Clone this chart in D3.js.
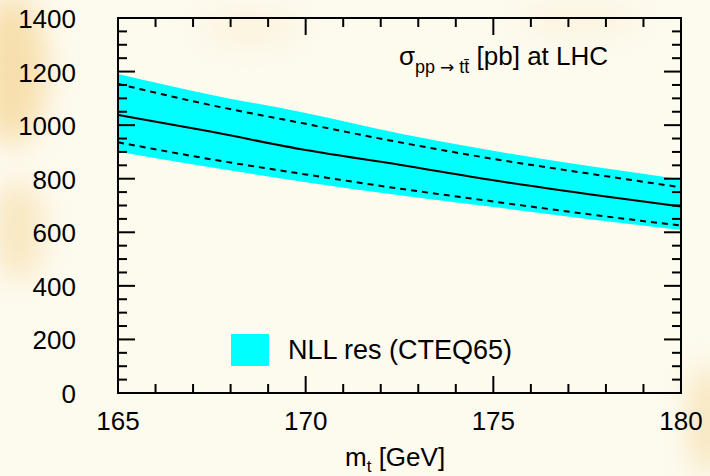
<!DOCTYPE html>
<html>
<head>
<meta charset="utf-8">
<script src="https://cdn.jsdelivr.net/npm/d3@7"></script>
<style>
  body { margin: 0; background: #fdfaee; }
  text { font-family: "Liberation Sans", Arial, sans-serif; fill: #000; }
</style>
</head>
<body>
<div id="canvas"></div>
<script>
"use strict"
let svgWidth = 710;
let svgHeight = 476;

let marginLeft = 118;
let marginRight = 29;
let marginTop = 18;
let marginBottom = 83;

let masses = [165, 167.5, 170, 172.5, 175, 177.5, 180];
// central NLL resummed cross section (pb)
let central = [1038, 975, 907, 852, 794, 743, 696];
// edges of the cyan band
let bandUpper = [1191, 1113, 1045, 969, 904, 848, 798];
let bandLower = [901, 842, 787, 738, 694, 650, 609];
// dashed curves
let dashUpper = [1154, 1074, 1005, 936, 874, 820, 768];
let dashLower = [936, 872, 816, 763, 715, 668, 625];

let xTicks = [165, 170, 175, 180];
let yTicks = [0, 200, 400, 600, 800, 1000, 1200, 1400];

let svg = d3.select("#canvas")
    .append("svg")
    .attr("width", svgWidth)
    .attr("height", svgHeight);

// soft beige blotches in the background
let defs = svg.append("defs");
defs.append("filter")
    .attr("id", "blur")
    .attr("x", "-50%").attr("y", "-50%")
    .attr("width", "200%").attr("height", "200%")
    .append("feGaussianBlur")
    .attr("stdDeviation", 14);

svg.append("rect")
    .attr("width", svgWidth)
    .attr("height", svgHeight)
    .attr("fill", "#fdfaee");

let blotches = [
    {cx: 12, cy: 70, rx: 35, ry: 75, c: "#f7e0ae"},
    {cx: 18, cy: 230, rx: 26, ry: 50, c: "#f9e8c2"},
    {cx: 706, cy: 420, rx: 16, ry: 55, c: "#f7e4b8"},
    {cx: 250, cy: 28, rx: 50, ry: 16, c: "#fbf3dc"},
    {cx: 580, cy: 20, rx: 60, ry: 14, c: "#fbf3de"}
];
svg.append("g")
    .attr("filter", "url(#blur)")
    .selectAll("ellipse")
    .data(blotches)
    .join("ellipse")
    .attr("cx", function(d) { return d.cx; })
    .attr("cy", function(d) { return d.cy; })
    .attr("rx", function(d) { return d.rx; })
    .attr("ry", function(d) { return d.ry; })
    .attr("fill", function(d) { return d.c; });

let xScale = d3.scaleLinear()
    .domain([165, 180])
    .range([marginLeft, svgWidth - marginRight]);
let yScale = d3.scaleLinear()
    .domain([0, 1400])
    .range([svgHeight - marginBottom, marginTop]);

let rows = masses.map(function(m, i) {
    return {m: m, c: central[i], bu: bandUpper[i], bl: bandLower[i], du: dashUpper[i], dl: dashLower[i]};
});

// cyan band
let area = d3.area()
    .curve(d3.curveMonotoneX)
    .x(function(d) { return xScale(d.m); })
    .y0(function(d) { return yScale(d.bl); })
    .y1(function(d) { return yScale(d.bu); });

svg.append("path")
    .datum(rows)
    .attr("d", area)
    .attr("fill", "#00ffff");

function curve(key) {
    return d3.line()
        .curve(d3.curveMonotoneX)
        .x(function(d) { return xScale(d.m); })
        .y(function(d) { return yScale(d[key]); });
}

svg.append("path")
    .datum(rows)
    .attr("d", curve("c"))
    .attr("fill", "none")
    .attr("stroke", "black")
    .attr("stroke-width", 2);

["du", "dl"].forEach(function(k) {
    svg.append("path")
        .datum(rows)
        .attr("d", curve(k))
        .attr("fill", "none")
        .attr("stroke", "black")
        .attr("stroke-width", 2)
        .attr("stroke-dasharray", "6,5");
});

// frame
let x0 = xScale(165), x1 = xScale(180);
let y0 = yScale(0), y1 = yScale(1400);
svg.append("rect")
    .attr("x", x0)
    .attr("y", y1)
    .attr("width", x1 - x0)
    .attr("height", y0 - y1)
    .attr("fill", "none")
    .attr("stroke", "black")
    .attr("stroke-width", 2);

// inward ticks on all four sides: long at labelled values, short in between
let ticks = svg.append("g")
    .attr("stroke", "black")
    .attr("stroke-width", 2);

for (let m = 165; m <= 180; m++) {
    let len = (m % 5 == 0) ? 17 : 9;
    let x = xScale(m);
    ticks.append("line").attr("x1", x).attr("x2", x).attr("y1", y0).attr("y2", y0 - len);
    ticks.append("line").attr("x1", x).attr("x2", x).attr("y1", y1).attr("y2", y1 + len);
}
for (let v = 0; v <= 1400; v += 50) {
    let len = (v % 200 == 0) ? 17 : 9;
    let y = yScale(v);
    ticks.append("line").attr("x1", x0).attr("x2", x0 + len).attr("y1", y).attr("y2", y);
    ticks.append("line").attr("x1", x1).attr("x2", x1 - len).attr("y1", y).attr("y2", y);
}

// tick labels
for (let i = 0; i < xTicks.length; i++) {
    svg.append("text")
        .attr("x", xScale(xTicks[i]))
        .attr("y", y0 + 37)
        .attr("text-anchor", "middle")
        .attr("font-size", 26)
        .text(xTicks[i]);
}
for (let i = 0; i < yTicks.length; i++) {
    svg.append("text")
        .attr("x", 76)
        .attr("y", yScale(yTicks[i]) + 10)
        .attr("text-anchor", "end")
        .attr("font-size", 26)
        .text(yTicks[i]);
}

// x axis title
let xLabel = svg.append("text")
    .attr("x", 345)
    .attr("y", 466)
    .attr("font-size", 26);
xLabel.append("tspan").text("m");
xLabel.append("tspan").attr("font-size", 17).attr("dy", 6).text("t");
xLabel.append("tspan").attr("dy", -6).text(" [GeV]");

// process label inside the frame
let title = svg.append("text")
    .attr("x", 399)
    .attr("y", 65)
    .attr("font-size", 26);
title.append("tspan").text("σ");
title.append("tspan").attr("font-size", 18).attr("dy", 8).text("pp ");
title.append("tspan").attr("font-size", 17).attr("font-family", "DejaVu Sans").text("\u2192");
title.append("tspan").attr("font-size", 18).text(" tt\u0304");
title.append("tspan").attr("dy", -8).text("  [pb] at LHC");

// legend
svg.append("rect")
    .attr("x", 231)
    .attr("y", 334)
    .attr("width", 38)
    .attr("height", 32)
    .attr("fill", "#00ffff");
svg.append("text")
    .attr("x", 288)
    .attr("y", 359)
    .attr("font-size", 27)
    .text("NLL res (CTEQ65)");
</script>
</body>
</html>
